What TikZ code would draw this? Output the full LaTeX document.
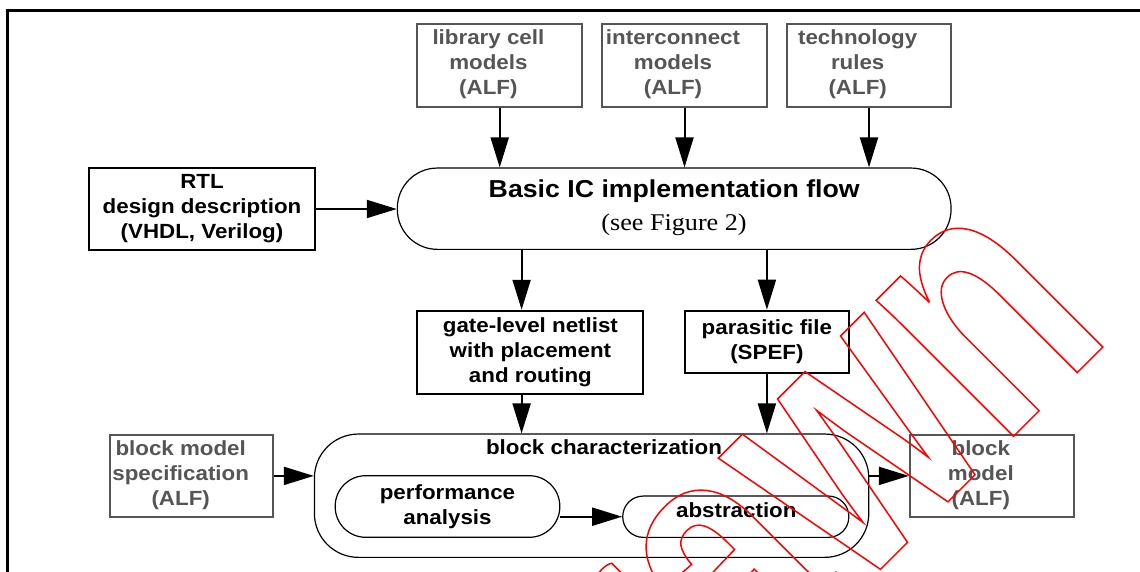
\documentclass[tikz,border=0pt]{standalone}
\usepackage{fontspec}
\setmainfont{Liberation Serif}
\setsansfont{Liberation Sans}
\newfontfamily\lblfont{Liberation Sans}[FakeStretch=1.09]
\newfontfamily\serfont{Liberation Serif}[FakeStretch=1.09]
\newfontfamily\wmfont{Liberation Sans}[FakeStretch=0.72]
\usetikzlibrary{arrows.meta}
\definecolor{graytxt}{HTML}{555555}
\definecolor{wmred}{HTML}{FF0000}
\begin{document}
\begin{tikzpicture}[x=1pt,y=-1pt,
  gbox/.style={draw=graytxt, line width=2pt, inner sep=0pt},
  bbox/.style={draw=black, line width=2pt, inner sep=0pt, align=center,
    font=\lblfont\bfseries\fontsize{20.5}{25}\selectfont},
  lbl/.style={inner sep=0pt, align=center, font=\lblfont\bfseries\fontsize{20.5}{25}\selectfont},
  glbl/.style={lbl, text=graytxt},
  flowbox/.style={draw=black, line width=1.2pt, inner sep=0pt, align=center,
    font=\lblfont\bfseries\fontsize{20.5}{25}\selectfont},
  arr/.style={line width=2pt, -{Triangle[length=30pt,width=18pt]}},
  frameline/.style={line width=3pt}
]
\useasboundingbox (0,0) rectangle (1140,572);
% frame
\coordinate (fa) at (7.5,580);
\coordinate (fb) at (7.5,10.5);
\coordinate (fc) at (1150,10.5);
\draw[frameline] (fa) -- (fb) -- (fc);

% top input boxes
\node[gbox, minimum width=164.7pt, minimum height=82.7pt] (lib) at (499.7,65.4) {};
\node[glbl] (libT) at (488.4,64.5) {library cell\\models\\(ALF)};
\node[gbox, minimum width=165pt, minimum height=82.7pt] (inter) at (684.5,65.4) {};
\node[glbl] (interT) at (673,64.5) {interconnect\\models\\(ALF)};
\node[gbox, minimum width=164pt, minimum height=82.7pt] (tech) at (869,65.4) {};
\node[glbl] (techT) at (857.7,64.5) {technology\\rules\\(ALF)};

% RTL
\node[bbox, minimum width=225.7pt, minimum height=82pt] (rtl) at (202,209)
  {RTL\\design description\\(VHDL, Verilog)};

% Basic flow
\node[flowbox, rounded corners=40pt, minimum width=553.7pt, minimum height=81.3pt] (basic) at (674.2,208.7) {};
\node[lbl, anchor=base, font=\lblfont\bfseries\fontsize{24.5}{30}\selectfont] (basicT) at (674.2,198) {Basic IC implementation flow};
\node[inner sep=0pt, anchor=base, font=\serfont\fontsize{24}{28}\selectfont] (seeT) at (674,230) {(see Figure 2)};

% middle boxes
\node[bbox, minimum width=226.1pt, minimum height=83.3pt] (gate) at (530.4,352.4)
  {gate-level netlist\\with placement\\and routing};
\node[bbox, minimum width=163.9pt, minimum height=62pt] (par) at (766.9,341.7)
  {parasitic file\\(SPEF)};

% block characterization
\node[flowbox, rounded corners=44pt, minimum width=554.4pt, minimum height=123.3pt] (bc) at (591.6,495.7) {};
\node[lbl] (bcT) at (604,447) {block characterization};
\node[flowbox, rounded corners=30.5pt, minimum width=224.6pt, minimum height=61.6pt] (perf) at (447.5,506.5)
  {performance\\analysis};
\node[flowbox, rounded corners=20.5pt, minimum width=226.1pt, minimum height=41.3pt] (abs) at (735.8,516.7) {};
\node[lbl] (absT) at (736.3,510) {abstraction};

% side boxes
\node[gbox, minimum width=163.6pt, minimum height=81.7pt] (spec) at (191.6,475.9) {};
\node[glbl] (specT) at (180.7,475) {block model\\specification\\(ALF)};
\node[gbox, minimum width=164.3pt, minimum height=81.7pt] (bm) at (992,475.9) {};
\node[glbl] (bmT) at (980.8,475) {block\\model\\(ALF)};

% connectors
\draw[arr] (lib.south) -- (lib.south |- basic.north);
\draw[arr] (inter.south) -- (inter.south |- basic.north);
\draw[arr] (tech.south) -- (tech.south |- basic.north);
\draw[arr] (rtl.east) -- (rtl.east -| basic.west);
\coordinate (gateN) at ([xshift=-8.8pt]gate.north);
\draw[arr] (gateN |- basic.south) -- (gateN);
\draw[arr] (par.north |- basic.south) -- (par.north);
\coordinate (gateS) at ([xshift=-8.8pt]gate.south);
\draw[arr] (gateS) -- (gateS |- bc.north);
\draw[arr] (par.south) -- (par.south |- bc.north);
\draw[arr] (spec.east) -- (spec.east -| bc.west);
\draw[arr] (bm.west -| bc.east) -- (bm.west);
\draw[arr] (abs.west -| perf.east) -- (abs.west);

% watermark
\node[inner sep=0pt, anchor=base east, rotate=45, text=wmred,
  font=\wmfont\bfseries\fontsize{366}{366}\selectfont] (wm) at (1114.3,335.6)
  {\special{pdf:literal direct 1 Tr 1.5 w}Withdrawn};
\end{tikzpicture}
\end{document}
